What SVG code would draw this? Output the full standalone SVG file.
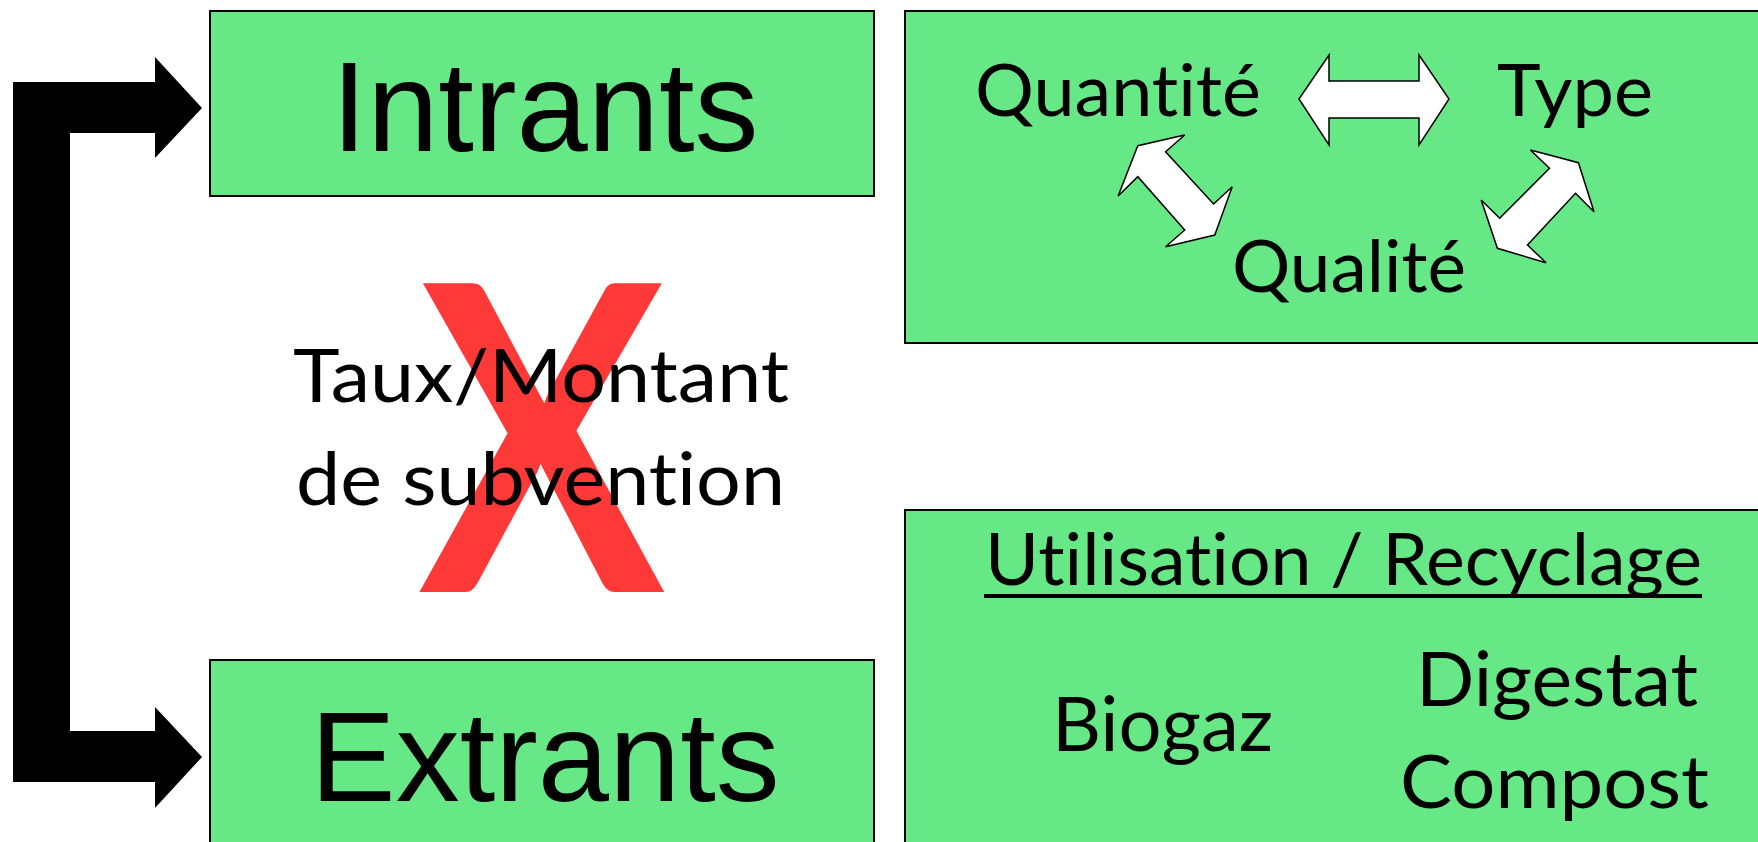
<svg xmlns="http://www.w3.org/2000/svg" width="1758" height="842" viewBox="0 0 1758 842">
  <style>
    .box { fill: #66E887; stroke: #000; stroke-width: 2; }
    .big { font-family: "Liberation Sans", Arial, sans-serif; font-size: 128px; fill: #000; text-anchor: middle; }
    .lbl { font-family: Lato, "Open Sans", sans-serif; fill: #000; font-variant-ligatures: none; font-feature-settings: "liga" 0, "clig" 0, "dlig" 0; }
    .dbl { fill: #fff; stroke: #000; stroke-width: 1.5; stroke-linejoin: miter; }
  </style>
  <rect width="1758" height="842" fill="#fff"/>

  <g id="node-intrants">
    <rect class="box" x="210" y="11" width="664" height="185"/>
    <text class="big" x="545" y="151">Intrants</text>
  </g>

  <g id="node-extrants">
    <rect class="box" x="210" y="660" width="664" height="200"/>
    <text class="big" x="545" y="801">Extrants</text>
  </g>

  <g id="node-subvention">
    <text transform="translate(542,592) scale(0.86,1)" x="0" y="0" font-family="Lato, 'Open Sans', sans-serif" font-weight="700" font-size="427" fill="#FF3838" text-anchor="middle">X</text>
    <text class="lbl" font-size="74" x="293" y="402" textLength="496" lengthAdjust="spacingAndGlyphs">Taux/Montant</text>
    <text class="lbl" font-size="74" x="296" y="505" textLength="489" lengthAdjust="spacingAndGlyphs">de subvention</text>
  </g>

  <g id="node-criteres">
    <rect class="box" x="905" y="11" width="870" height="332"/>
    <text class="lbl" font-size="71" x="975" y="116" textLength="286" lengthAdjust="spacingAndGlyphs">Quantité</text>
    <text class="lbl" font-size="71" x="1497" y="116" textLength="156" lengthAdjust="spacingAndGlyphs">Type</text>
    <text class="lbl" font-size="71" x="1232" y="292" textLength="234" lengthAdjust="spacingAndGlyphs">Qualité</text>
  </g>

  <g id="node-utilisation">
    <rect class="box" x="905" y="510" width="870" height="350"/>
    <text class="lbl" font-size="72" x="985" y="585" textLength="717" lengthAdjust="spacingAndGlyphs">Utilisation / Recyclage</text>
    <line x1="984" y1="596" x2="1702" y2="596" stroke="#000" stroke-width="4"/>
    <text class="lbl" font-size="75" x="1052" y="751" textLength="221" lengthAdjust="spacingAndGlyphs">Biogaz</text>
    <text class="lbl" font-size="75" x="1416" y="706" textLength="282" lengthAdjust="spacingAndGlyphs">Digestat</text>
    <text class="lbl" font-size="73" x="1400" y="808" textLength="309" lengthAdjust="spacingAndGlyphs">Compost</text>
  </g>

  <g id="connectors">
    <polygon fill="#000" points="13,82 155,82 155,57 202,108 155,158 155,133 70,133 70,731 155,731 155,707 202,757 155,808 155,782 13,782"/>
    <polygon class="dbl" points="1299,99 1329,55 1329,81 1419,81 1419,55 1449,99 1419,145 1419,118 1329,118 1329,145"/>
    <polygon class="dbl" points="1184.7,135 1137.8,145.7 1118.1,196 1137.8,176.7 1184.7,230 1165.6,246.7 1214.8,235 1232.2,186.7 1213.6,204 1165.6,151.7"/>
    <polygon class="dbl" points="1530.4,150 1578.4,162.7 1594,211.7 1575.5,193.3 1527.5,245 1546,262.7 1497.4,248.3 1481.2,200 1499.7,218.3 1549.5,168.3"/>
  </g>
</svg>
